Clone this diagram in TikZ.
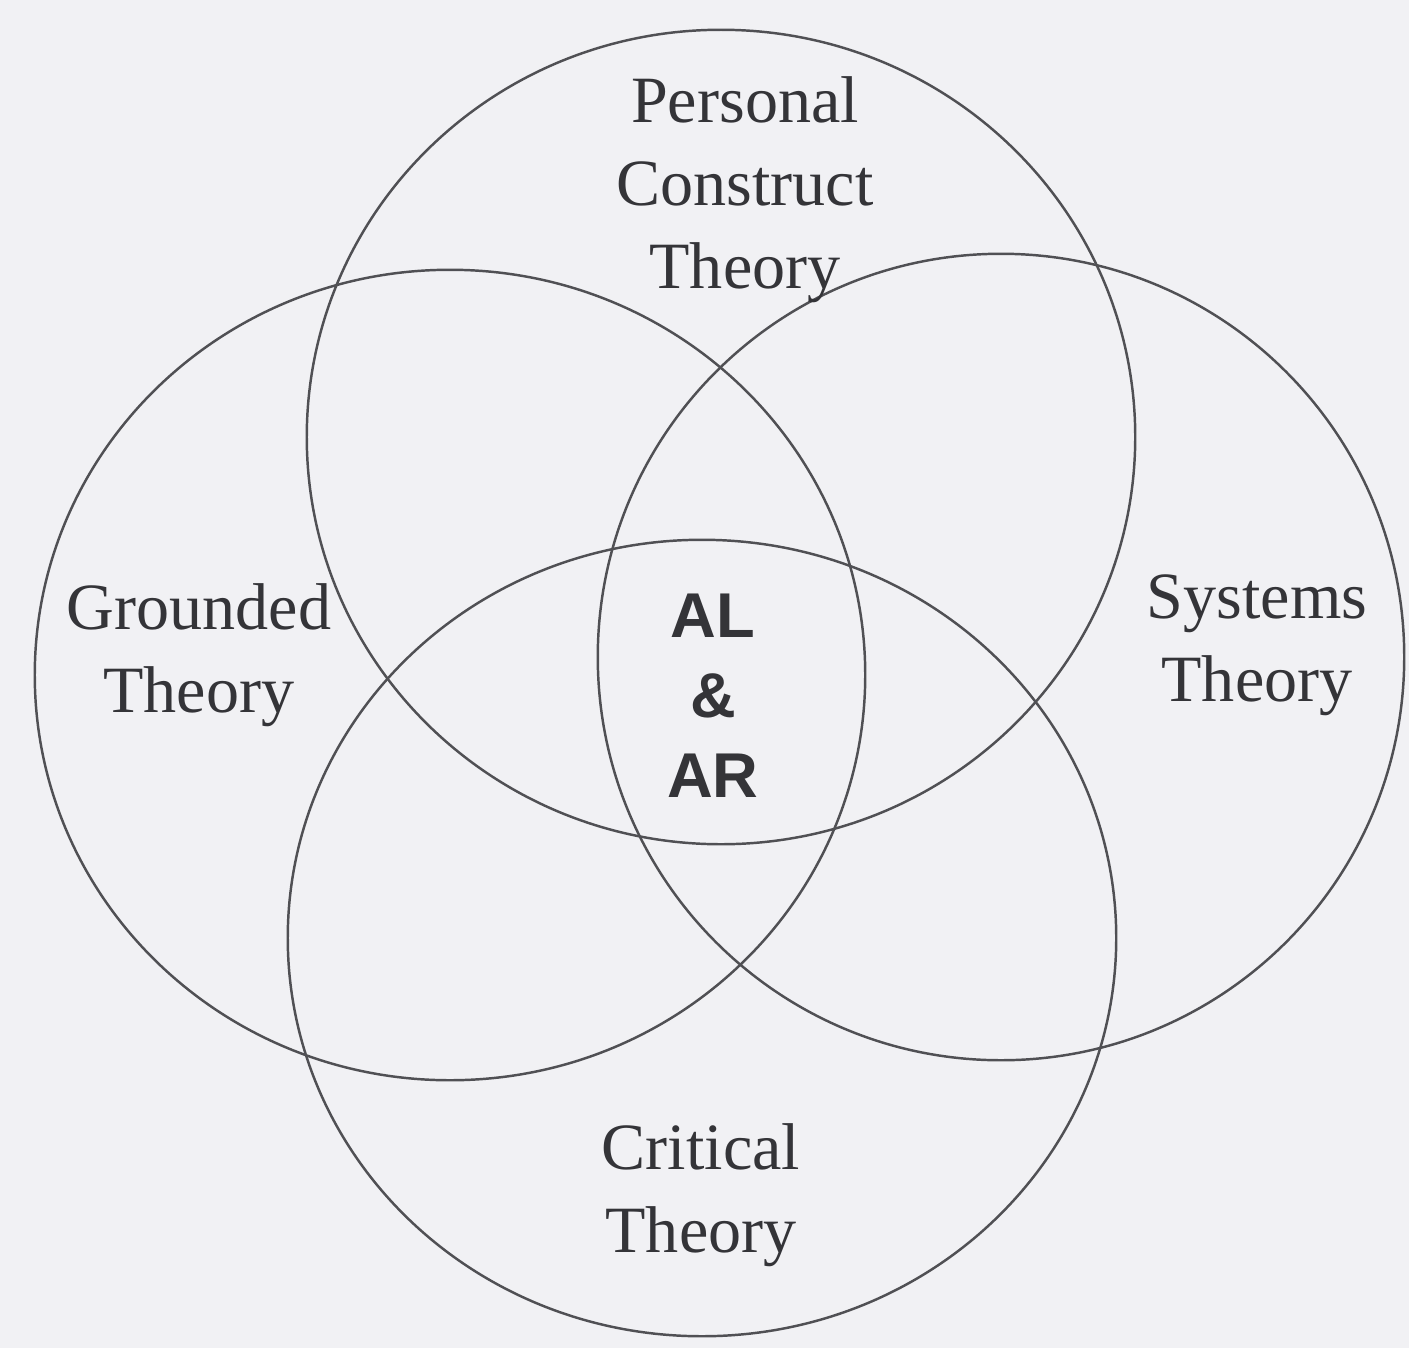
\documentclass[tikz,border=0pt]{standalone}
\usepackage{fontspec}
\setmainfont{Liberation Serif}
\newfontfamily\arialfont{Liberation Sans}
\definecolor{bgc}{RGB}{241,241,244}
\definecolor{linec}{RGB}{80,80,84}
\definecolor{textc}{RGB}{52,52,56}
\begin{document}
\begin{tikzpicture}[x=0.01cm,y=-0.01cm,
  ring/.style={draw=linec,line width=0.7pt},
  lbl/.style={align=center,text=textc,inner sep=0pt,font=\fontsize{18.8}{23.6}\selectfont},
  core/.style={align=center,text=textc,inner sep=0pt,font=\arialfont\bfseries\fontsize{18}{22.8}\selectfont}]
\fill[bgc] (0,0) rectangle (1409,1348);
\useasboundingbox (0,0) rectangle (1409,1348);
\coordinate (cP) at (721,437);
\coordinate (cG) at (450,675);
\coordinate (cS) at (1001,657);
\coordinate (cC) at (702,938);
\draw[ring] (cP) ellipse [x radius=4.14cm, y radius=4.07cm];
\draw[ring] (cG) ellipse [x radius=4.15cm, y radius=4.05cm];
\draw[ring] (cS) ellipse [x radius=4.03cm, y radius=4.03cm];
\draw[ring] (cC) ellipse [x radius=4.14cm, y radius=3.98cm];
\node[lbl] (personal) at (745,190) {Personal\\Construct\\Theory};
\node[lbl] (grounded) at (199,655) {Grounded\\Theory};
\node[lbl] (systems) at (1257,645) {Systems\\Theory};
\node[lbl] (critical) at (701,1195) {Critical\\Theory};
\node[core] (alar) at (713,696) {AL\\\&\\AR};
\end{tikzpicture}
\end{document}
